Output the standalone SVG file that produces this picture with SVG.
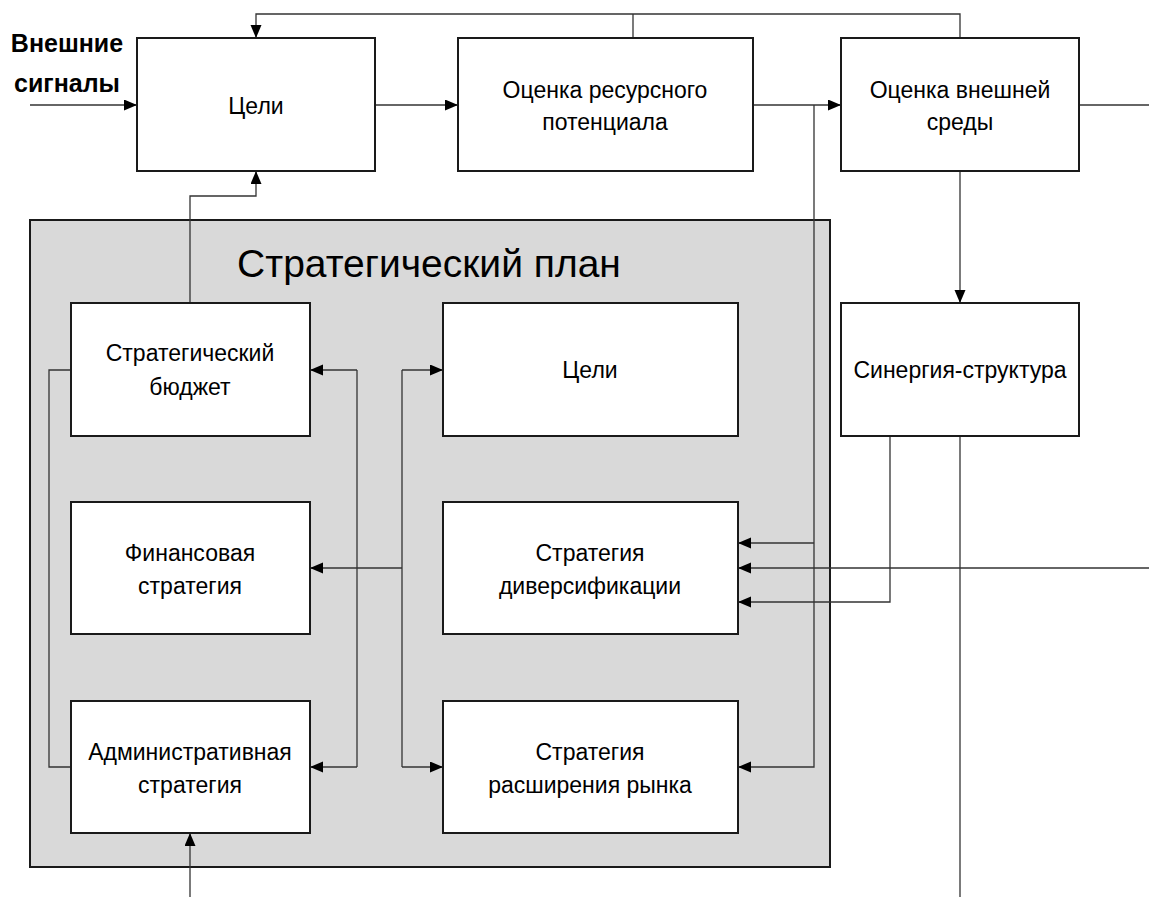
<svg xmlns="http://www.w3.org/2000/svg" width="1149" height="897" viewBox="0 0 1149 897">
<defs>
<style>
.box{fill:#fff;stroke:#1a1a1a;stroke-width:2}
.plan{fill:#d9d9d9;stroke:#1a1a1a;stroke-width:2}
.t{font-family:"Liberation Sans",Arial,sans-serif;font-size:23px;fill:#000;text-anchor:middle;dominant-baseline:central}
.title{font-family:"Liberation Sans",Arial,sans-serif;font-size:39px;fill:#000;text-anchor:middle}
.lbl{font-family:"Liberation Sans",Arial,sans-serif;font-size:25px;font-weight:bold;fill:#000;text-anchor:middle}
.c{fill:none;stroke:#333;stroke-width:1.3}
.a{marker-end:url(#arr)}
</style>
<marker id="arr" markerUnits="userSpaceOnUse" markerWidth="14" markerHeight="12" refX="13" refY="5.5" orient="auto">
<path d="M0,0 L13,5.5 L0,11 z" fill="#000"/>
</marker>
</defs>
<rect width="1149" height="897" fill="#fff"/>

<g id="plan">
<rect class="plan" x="30" y="220" width="800" height="647"/>
<text class="title" x="429" y="277">Стратегический план</text>
</g>

<g id="label-signals">
<text class="lbl" x="67" y="52">Внешние</text>
<text class="lbl" x="67" y="92">сигналы</text>
</g>

<g id="connectors">
<path class="c a" d="M30,105 H137"/>
<path class="c a" d="M375,105 H458"/>
<path class="c a" d="M753,105 H841"/>
<path class="c" d="M1079,105 H1149"/>
<path class="c a" d="M960,38 V14 H256 V38"/>
<path class="c" d="M633,38 V14"/>
<path class="c a" d="M960,171 V303"/>
<path class="c" d="M960,436 V897"/>
<path class="c a" d="M890,436 V602 H738"/>
<path class="c a" d="M1149,568 H738"/>
<path class="c a" d="M814,105 V767 H738"/>
<path class="c a" d="M814,543 H738"/>
<path class="c a" d="M190,303 V196 H256 V171"/>
<path class="c" d="M71,370 H49 V767 H71"/>
<path class="c" d="M357,370 V767"/>
<path class="c a" d="M357,370 H310"/>
<path class="c a" d="M357,767 H310"/>
<path class="c" d="M402,370 V767"/>
<path class="c a" d="M402,370 H443"/>
<path class="c a" d="M402,767 H443"/>
<path class="c a" d="M402,568 H310"/>
<path class="c a" d="M190,897 V833"/>
</g>

<g id="goals-top">
<rect class="box" x="137" y="38" width="238" height="133"/>
<text class="t" x="256" y="106">Цели</text>
</g>
<g id="resource">
<rect class="box" x="458" y="38" width="295" height="133"/>
<text class="t" x="605" y="90">Оценка ресурсного</text>
<text class="t" x="605" y="122">потенциала</text>
</g>
<g id="environment">
<rect class="box" x="841" y="38" width="238" height="133"/>
<text class="t" x="960" y="90">Оценка внешней</text>
<text class="t" x="960" y="122">среды</text>
</g>
<g id="synergy">
<rect class="box" x="841" y="303" width="238" height="133"/>
<text class="t" x="960" y="370">Синергия-структура</text>
</g>
<g id="budget">
<rect class="box" x="71" y="303" width="239" height="133"/>
<text class="t" x="190" y="353">Стратегический</text>
<text class="t" x="190" y="387">бюджет</text>
</g>
<g id="finance">
<rect class="box" x="71" y="502" width="239" height="132"/>
<text class="t" x="190" y="553">Финансовая</text>
<text class="t" x="190" y="586">стратегия</text>
</g>
<g id="admin">
<rect class="box" x="71" y="701" width="239" height="132"/>
<text class="t" x="190" y="752">Административная</text>
<text class="t" x="190" y="785">стратегия</text>
</g>
<g id="goals-inner">
<rect class="box" x="443" y="303" width="295" height="133"/>
<text class="t" x="590" y="370">Цели</text>
</g>
<g id="diversification">
<rect class="box" x="443" y="502" width="295" height="132"/>
<text class="t" x="590" y="553">Стратегия</text>
<text class="t" x="590" y="586">диверсификации</text>
</g>
<g id="market">
<rect class="box" x="443" y="701" width="295" height="132"/>
<text class="t" x="590" y="752">Стратегия</text>
<text class="t" x="590" y="785">расширения рынка</text>
</g>
</svg>
